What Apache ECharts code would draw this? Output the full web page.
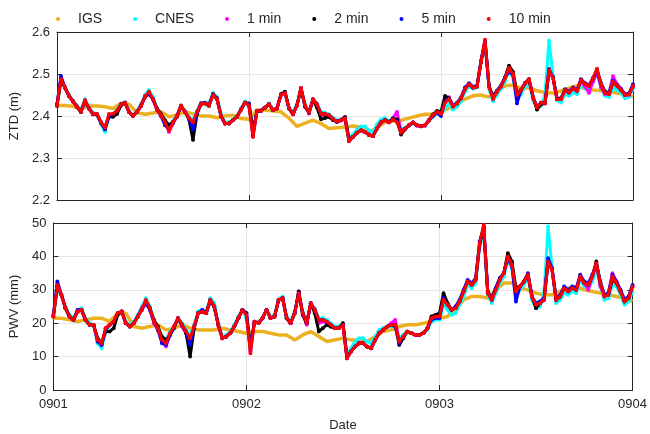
<!DOCTYPE html>
<html><head><meta charset="utf-8">
<script src="https://cdn.jsdelivr.net/npm/echarts@6/dist/echarts.min.js"></script>
<style>html,body{margin:0;padding:0;background:#fff}#c{width:650px;height:434px}</style>
</head><body><div id="c"></div>
<script>
// ---------- data ----------
const dateTicks = ['0901', '0902', '0903', '0904'];
const seriesNames = ['IGS', 'CNES', '1 min', '2 min', '5 min', '10 min'];
const gnssStepHours = 0.5;   // GNSS values every 30 min from 0901 00:00
const igsStepHours = 1;      // IGS values hourly

const ztdIGS = [2.425,2.425,2.423,2.418,2.424,2.424,2.422,2.418,2.430,2.428,2.408,2.404,2.407,2.410,2.398,2.402,2.410,2.405,2.400,2.400,2.396,2.400,2.402,2.394,2.392,
 2.414,2.414,2.412,2.410,2.395,2.375,2.383,2.390,2.382,2.370,2.372,2.374,2.376,2.374,2.362,2.372,2.385,2.388,2.390,2.395,2.400,2.404,2.404,2.412,
 2.418,2.430,2.440,2.448,2.450,2.445,2.460,2.472,2.474,2.465,2.468,2.460,2.456,2.455,2.460,2.466,2.472,2.465,2.462,2.460,2.458,2.455,2.452,2.446];
const ztdCNES = [2.428,2.480,2.470,2.450,2.436,2.425,2.415,2.440,2.420,2.408,
 2.405,2.380,2.362,2.398,2.405,2.414,2.430,2.433,2.412,2.402,
 2.412,2.428,2.450,2.462,2.445,2.418,2.400,2.390,2.375,2.388,
 2.402,2.425,2.412,2.398,2.390,2.412,2.432,2.432,2.430,2.455,
 2.445,2.405,2.385,2.385,2.392,2.400,2.418,2.435,2.420,2.362,
 2.410,2.414,2.420,2.430,2.416,2.420,2.450,2.458,2.420,2.408,
 2.428,2.462,2.428,2.410,2.438,2.430,2.410,2.408,2.404,2.396,
 2.390,2.392,2.396,2.348,2.356,2.368,2.375,2.375,2.366,2.362,
 2.380,2.392,2.395,2.388,2.392,2.388,2.368,2.372,2.378,2.382,
 2.378,2.376,2.378,2.388,2.398,2.405,2.402,2.420,2.428,2.415,
 2.422,2.435,2.458,2.470,2.465,2.468,2.528,2.575,2.465,2.435,
 2.450,2.465,2.482,2.508,2.492,2.440,2.452,2.470,2.480,2.438,
 2.418,2.425,2.450,2.580,2.495,2.438,2.432,2.452,2.448,2.456,
 2.452,2.476,2.466,2.462,2.480,2.500,2.468,2.448,2.445,2.468,
 2.462,2.455,2.442,2.445,2.465];
const ztd1min = [2.426,2.490,2.466,2.447,2.434,2.422,2.410,2.437,2.417,2.404,
 2.404,2.383,2.370,2.402,2.404,2.412,2.428,2.431,2.409,2.400,
 2.410,2.424,2.448,2.455,2.440,2.414,2.400,2.384,2.362,2.382,
 2.400,2.423,2.409,2.394,2.375,2.408,2.430,2.430,2.426,2.452,
 2.442,2.400,2.382,2.383,2.390,2.398,2.416,2.432,2.426,2.352,
 2.412,2.413,2.420,2.428,2.414,2.418,2.452,2.456,2.418,2.404,
 2.426,2.466,2.424,2.406,2.440,2.427,2.402,2.402,2.400,2.392,
 2.386,2.389,2.394,2.342,2.350,2.360,2.366,2.362,2.356,2.352,
 2.370,2.384,2.390,2.385,2.395,2.410,2.365,2.370,2.377,2.384,
 2.377,2.375,2.377,2.390,2.402,2.410,2.406,2.432,2.445,2.424,
 2.430,2.442,2.466,2.475,2.467,2.470,2.528,2.578,2.470,2.442,
 2.458,2.470,2.492,2.512,2.498,2.448,2.460,2.478,2.486,2.444,
 2.420,2.432,2.430,2.505,2.492,2.440,2.440,2.460,2.456,2.465,
 2.460,2.484,2.470,2.455,2.482,2.505,2.468,2.452,2.455,2.495,
 2.476,2.465,2.452,2.450,2.470];
const ztd2min = [2.424,2.485,2.468,2.448,2.436,2.421,2.409,2.436,2.418,2.404,
 2.403,2.386,2.372,2.398,2.398,2.405,2.425,2.432,2.410,2.401,
 2.410,2.424,2.445,2.455,2.440,2.418,2.405,2.390,2.378,2.386,
 2.398,2.424,2.410,2.392,2.343,2.405,2.428,2.430,2.424,2.452,
 2.442,2.400,2.382,2.382,2.390,2.398,2.415,2.432,2.430,2.365,
 2.412,2.412,2.420,2.428,2.414,2.418,2.452,2.458,2.418,2.404,
 2.425,2.466,2.422,2.408,2.438,2.420,2.392,2.395,2.398,2.390,
 2.386,2.390,2.398,2.345,2.350,2.360,2.366,2.362,2.355,2.352,
 2.370,2.385,2.390,2.386,2.394,2.392,2.356,2.368,2.378,2.385,
 2.378,2.376,2.378,2.390,2.404,2.412,2.410,2.448,2.442,2.424,
 2.430,2.442,2.465,2.476,2.468,2.470,2.528,2.578,2.472,2.446,
 2.460,2.472,2.492,2.520,2.505,2.455,2.462,2.478,2.488,2.445,
 2.415,2.428,2.430,2.505,2.492,2.440,2.442,2.462,2.456,2.466,
 2.460,2.486,2.476,2.472,2.490,2.510,2.478,2.458,2.452,2.480,
 2.472,2.462,2.450,2.452,2.472];
const ztd5min = [2.428,2.495,2.468,2.448,2.435,2.422,2.412,2.436,2.418,2.405,
 2.405,2.384,2.368,2.400,2.404,2.412,2.428,2.432,2.410,2.400,
 2.410,2.424,2.446,2.452,2.440,2.415,2.400,2.378,2.370,2.383,
 2.400,2.424,2.410,2.395,2.368,2.408,2.430,2.432,2.426,2.450,
 2.440,2.400,2.382,2.382,2.390,2.398,2.415,2.432,2.428,2.355,
 2.412,2.412,2.420,2.428,2.414,2.418,2.450,2.455,2.418,2.404,
 2.425,2.467,2.425,2.408,2.440,2.428,2.405,2.405,2.402,2.393,
 2.387,2.390,2.395,2.340,2.350,2.360,2.366,2.362,2.355,2.352,
 2.370,2.385,2.390,2.385,2.392,2.388,2.362,2.370,2.378,2.385,
 2.378,2.376,2.378,2.390,2.400,2.408,2.400,2.435,2.440,2.424,
 2.432,2.444,2.468,2.478,2.470,2.472,2.532,2.580,2.472,2.442,
 2.460,2.472,2.492,2.505,2.498,2.430,2.462,2.478,2.488,2.446,
 2.422,2.432,2.432,2.512,2.492,2.442,2.442,2.464,2.458,2.468,
 2.462,2.488,2.478,2.474,2.490,2.508,2.476,2.456,2.454,2.484,
 2.474,2.464,2.452,2.454,2.476];
const ztd10min = [2.425,2.488,2.468,2.448,2.435,2.422,2.410,2.438,2.418,2.405,
 2.405,2.385,2.372,2.405,2.405,2.412,2.428,2.432,2.410,2.400,
 2.410,2.424,2.446,2.458,2.440,2.415,2.402,2.385,2.365,2.385,
 2.400,2.425,2.410,2.395,2.385,2.410,2.430,2.430,2.425,2.450,
 2.440,2.400,2.382,2.382,2.390,2.398,2.415,2.432,2.425,2.350,
 2.412,2.412,2.420,2.428,2.414,2.418,2.450,2.455,2.418,2.404,
 2.425,2.467,2.425,2.408,2.440,2.428,2.405,2.405,2.402,2.393,
 2.387,2.390,2.395,2.340,2.350,2.360,2.366,2.362,2.355,2.352,
 2.370,2.385,2.390,2.385,2.392,2.385,2.360,2.370,2.378,2.385,
 2.378,2.376,2.378,2.390,2.402,2.410,2.405,2.432,2.440,2.422,
 2.430,2.442,2.465,2.476,2.468,2.470,2.530,2.582,2.470,2.440,
 2.458,2.470,2.490,2.515,2.500,2.450,2.462,2.478,2.488,2.445,
 2.420,2.432,2.430,2.510,2.490,2.440,2.440,2.462,2.456,2.466,
 2.460,2.486,2.476,2.472,2.490,2.513,2.475,2.455,2.452,2.482,
 2.472,2.462,2.450,2.452,2.472];

const pwvIGS = [21.5,21.5,21,20.5,21,21.5,21.5,20.5,23,23,19,18.5,19,19.5,18,18.5,19.5,18.5,18,18,18,18.5,18,17.5,17,
 17.5,17.5,17,16.5,16.5,15,16.5,17.5,16,14.5,15,15.5,15,15,14.5,16,17.5,18,19,19.5,19.5,20,20.5,21.5,
 22,24.5,27,28,28,27.5,30,32,32,30.5,30,29,28.5,28.5,29.5,30.5,31,30,29.5,29,28.5,28,27.5,26.5];
const pwvCNES = [22.5,30,28.5,25,22.5,21.5,23.5,24.5,21.5,20,
 19.5,14,12.5,17.5,19.5,20.5,23,23.5,20.5,19.5,
 20.5,22.5,25,27.5,25,21,18,16,15,17.5,
 19,21.5,20,18,16.5,19.5,23.5,24,23.5,27.5,
 26,20,16,16.5,17.5,19.5,22,24,21.5,13,
 20,20.5,21.5,24,22,22.5,27,28,22,20.5,
 23.5,28.5,23.5,20.5,25.5,24.5,21.5,21.5,21,20,
 19,19,20,10.5,12.5,14.5,15.5,15.5,14.5,14,
 16,18,18.5,19,19,19,15.5,16.5,17.5,17,
 16.5,16.5,17,18,20.5,21,21,25.5,24,22.5,
 23,25.5,28,31.5,30.5,32,43,47,28.5,26,
 29,32,34,39,36.5,28.5,30,31.5,33.5,27,
 24.5,25,29,49,36.5,26,27,29,28.5,29.5,
 29,33,31,30.5,32.5,36.5,31,27,27.5,31.5,
 31,28.5,25.5,26.5,29.5];
const pwv1min = [22,32,28.5,24.5,22,21,23.5,24,21,19.5,
 19.5,15,13.5,18.5,19.5,20.5,23,23.5,20,19,
 20,22,24.5,26.5,24,20,18,15,13,16.5,
 19,21.5,19,17,13,18.5,23,23.5,23,27,
 25,19.5,15.5,16,17,19,21.5,24,22.5,11.5,
 20.5,20,21.5,24,21.5,22,27,27.5,21.5,20,
 23,29.5,22.5,19.5,26,24,20,20.5,20,19,
 18.5,18.5,19.5,9.5,11.5,13,14,14,13,12.5,
 15,17,18,19,20,21,14.5,16,17.5,17,
 16.5,16.5,17,18.5,21.5,22,22,27,26,24,
 24.5,26.5,30,32.5,31.5,33,43.5,48.5,29,27,
 30,33,35,40,38,30,31,32.5,34.5,28,
 25.5,26,27,38,36,27,28,30.5,29.5,30.5,
 30,34,32,30,34,38,31,28,29,35,
 32.5,30,27,27.5,31];
const pwv2min = [22,31,28.5,24.5,22,21,23.5,24,21,19.5,
 19.5,15.5,14,17.5,17.5,18.5,22.5,23.5,20,19,
 20,22,24,26.5,24.5,21,19,16,15,16.5,
 18.5,21.5,19.5,17,10,18.5,23,23.5,23,27,
 25,19.5,15.5,16,17,19,21.5,24,23,13,
 20.5,20,21.5,24,21.5,22,27,27.5,21.5,20,
 23,29.5,22.5,20,26,23,17.5,18.5,19.5,19,
 18.5,18.5,20,10,11.5,13,14,14,13,12.5,
 15,17,18,19,19.5,19,13.5,15.5,17.5,17,
 16.5,16.5,17,18.5,22,22.5,23,29,26,24,
 24.5,26.5,29.5,32.5,31.5,33,44,48.5,29.5,27.5,
 30.5,33.5,35,41,38.5,30.5,31,32.5,34.5,28,
 24.5,26,27,38.5,36,27,28,30.5,29.5,30.5,
 30,34,32,31.5,34,38.5,32,28.5,28.5,33,
 32,29.5,26.5,27.5,31];
const pwv5min = [22.5,32.5,28.5,24.5,22,21,24,24,21,19.5,
 19.5,14.5,13.5,18,19.5,20.5,23,23.5,20,19,
 20,22,24,26,24,20.5,18,14,13.5,16.5,
 19,21.5,19.5,17.5,13.5,19,23,24,23,26.5,
 25,19.5,15.5,16,17,19,21.5,24,23,12,
 20.5,20,21.5,24,21.5,22,27,27.5,21.5,20,
 23,29,23,20,26,24,21,21,20.5,19.5,
 18.5,18.5,19.5,9.5,11.5,13,14,14,13,12.5,
 15,17,18,19,19.5,19.5,14,16,17.5,17,
 16.5,16.5,17,18.5,21,21.5,21.5,27.5,25.5,24,
 25,27,30,33,32,33.5,44.5,49,29.5,27,
 30.5,33.5,35,39.5,37,26.5,31,32.5,35,28,
 26,26.5,27.5,39.5,36.5,27.5,28.5,31,30,31,
 30.5,34.5,32.5,32,34.5,37.5,32.5,28.5,29,34.5,
 32.5,30,27,28,31.5];
const pwv10min = [22,31.5,28.5,24.5,22,21,23.5,24,21,19.5,
 19.5,15,14,18.5,19.5,20.5,23,23.5,20,19,
 20,22,24,27,24.5,20.5,18.5,15,14,17,
 19,21.5,19.5,17.5,15.5,19,23,23.5,23,27,
 25,19.5,15.5,16,17,19,21.5,24,22.5,11,
 20.5,20,21.5,24,21.5,22,27,27.5,21.5,20,
 23,29,23,20,26,24,21,21,20.5,19.5,
 18.5,18.5,19.5,9.5,11.5,13,14,14,13,12.5,
 15,17,18,19,19.5,19.5,14.5,16,17.5,17,
 16.5,16.5,17,18.5,21.5,22,22,27,25.5,24,
 24.5,26.5,29.5,32.5,31.5,33,44,49.5,29,27,
 30,33,35,40,37.5,29.5,31,32.5,34.5,28,
 25.5,26,27,38.5,36,27,28,30.5,29.5,30.5,
 30,34,32,31.5,34,38,32,28,28.5,34,
 32,29.5,26.5,27.5,31];

// ---------- chart ----------
const colors = ['#EDB120', '#00FFFF', '#FF00FF', '#000000', '#0000FF', '#FF0000'];
const ztdSets = [ztdIGS, ztdCNES, ztd1min, ztd2min, ztd5min, ztd10min];
const pwvSets = [pwvIGS, pwvCNES, pwv1min, pwv2min, pwv5min, pwv10min];

function pairs(arr, step) { return arr.map((v, i) => [i * step, v]); }

const FONT = 'Arial, "Liberation Sans", Helvetica, sans-serif';
const TXT = '#262626';
const GRIDC = '#e6e6e6';

function xAx(gridIndex, showLabel, pos) {
  return {
    type: 'value', gridIndex, position: pos, min: 0, max: 72, interval: 24,
    axisLine: { show: true, onZero: false, lineStyle: { color: TXT, width: 1 } },
    axisTick: { show: true, inside: true, length: 5, lineStyle: { color: TXT } },
    axisLabel: { show: showLabel, color: TXT, fontSize: 13, fontFamily: FONT, margin: 8,
      formatter: v => dateTicks[Math.round(v / 24)] },
    splitLine: { show: pos === 'bottom', lineStyle: { color: GRIDC, width: 1 } },
    name: (gridIndex === 1 && pos === 'bottom') ? 'Date' : '',
    nameLocation: 'middle', nameGap: 29,
    nameTextStyle: { color: TXT, fontSize: 13, fontFamily: FONT }
  };
}
function yAx(gridIndex, pos, min, max, interval, name, fmt) {
  return {
    type: 'value', gridIndex, position: pos, min, max, interval,
    axisLine: { show: true, onZero: false, lineStyle: { color: TXT, width: 1 } },
    axisTick: { show: true, inside: true, length: 5, lineStyle: { color: TXT } },
    axisLabel: { show: pos === 'left', color: TXT, fontSize: 13, fontFamily: FONT, margin: 7, formatter: fmt },
    splitLine: { show: pos === 'left', lineStyle: { color: GRIDC, width: 1 } },
    name: pos === 'left' ? name : '', nameLocation: 'middle', nameGap: 28,
    nameTextStyle: { color: TXT, fontSize: 13, fontFamily: FONT }
  };
}

const series = [];
[ztdSets, pwvSets].forEach((sets, g) => {
  sets.forEach((arr, k) => {
    const isIGS = k === 0;
    series.push({
      name: seriesNames[k], type: 'line',
      xAxisIndex: g * 2, yAxisIndex: g * 2,
      data: pairs(arr, isIGS ? igsStepHours : gnssStepHours),
      color: colors[k],
      symbol: 'circle', symbolSize: isIGS ? 0 : 3.8,
      showSymbol: !isIGS, showAllSymbol: true,
      lineStyle: { width: isIGS ? 3.5 : 3, color: colors[k] },
      itemStyle: { color: colors[k] },
      emphasis: { disabled: true }, z: 2 + k
    });
  });
});

const chart = echarts.init(document.getElementById('c'), null, { renderer: 'canvas' });
chart.setOption({
  animation: false,
  backgroundColor: '#ffffff',
  textStyle: { fontFamily: FONT },
  legend: {
    data: seriesNames, left: 51, top: 7, icon: 'circle',
    itemWidth: 30, itemHeight: 4, itemGap: 31, symbolKeepAspect: true,
    textStyle: { color: TXT, fontSize: 14, fontFamily: FONT, padding: [0, 0, 0, 0] }
  },
  grid: [
    { left: 53, right: 17, top: 32, height: 168, backgroundColor: '#fff' },
    { left: 53, right: 17, top: 223, height: 167, backgroundColor: '#fff' }
  ],
  xAxis: [xAx(0, false, 'bottom'), xAx(0, false, 'top'), xAx(1, true, 'bottom'), xAx(1, false, 'top')],
  yAxis: [
    yAx(0, 'left', 2.2, 2.6, 0.1, 'ZTD (m)', v => v.toFixed(1)),
    yAx(0, 'right', 2.2, 2.6, 0.1, '', v => v),
    yAx(1, 'left', 0, 50, 10, 'PWV (mm)', v => v),
    yAx(1, 'right', 0, 50, 10, '', v => v)
  ],
  series: series
});
</script>
</body></html>
